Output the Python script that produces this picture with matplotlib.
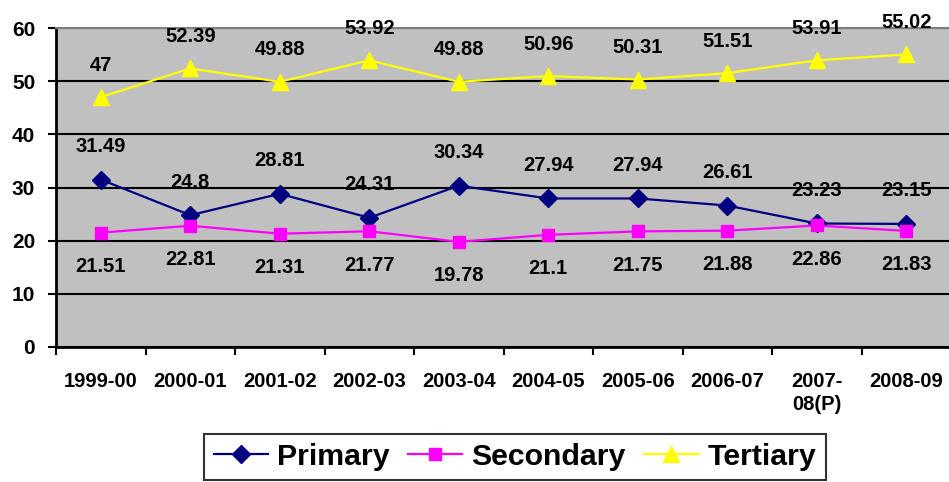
import matplotlib
matplotlib.use("Agg")
import matplotlib.pyplot as plt
from matplotlib.lines import Line2D

categories = ["1999-00", "2000-01", "2001-02", "2002-03", "2003-04", "2004-05",
              "2005-06", "2006-07", "2007-\n08(P)", "2008-09"]
primary = [31.49, 24.8, 28.81, 24.31, 30.34, 27.94, 27.94, 26.61, 23.23, 23.15]
secondary = [21.51, 22.81, 21.31, 21.77, 19.78, 21.1, 21.75, 21.88, 22.86, 21.83]
tertiary = [47, 52.39, 49.88, 53.92, 49.88, 50.96, 50.31, 51.51, 53.91, 55.02]
primary_labels = ["31.49", "24.8", "28.81", "24.31", "30.34", "27.94", "27.94", "26.61", "23.23", "23.15"]
secondary_labels = ["21.51", "22.81", "21.31", "21.77", "19.78", "21.1", "21.75", "21.88", "22.86", "21.83"]
tertiary_labels = ["47", "52.39", "49.88", "53.92", "49.88", "50.96", "50.31", "51.51", "53.91", "55.02"]
yticks = [0, 10, 20, 30, 40, 50, 60]

plt.rcParams['font.family'] = ['Liberation Sans', 'DejaVu Sans']
plt.rcParams['font.weight'] = 'bold'

W, H = 949, 482
fig = plt.figure(figsize=(W / 100, H / 100), dpi=100)
ax = fig.add_axes([56 / W, (H - 347) / H, 895 / W, 319 / H])
ax.set_facecolor('#C0C0C0')

x = [i + 0.5 for i in range(len(categories))]
px = 0.72  # points per pixel

series = [
    (primary, primary_labels, '#000080', 'D', 9, 'Primary', 33),
    (secondary, secondary_labels, '#FF00FF', 's', 9, 'Secondary', -34),
    (tertiary, tertiary_labels, '#FFFF00', '^', 11, 'Tertiary', 32),
]
for vals, labs, col, mk, ms, name, off in series:
    ax.plot(x, vals, color=col, marker=mk, markersize=ms, linewidth=1.6,
            markerfacecolor=col, markeredgecolor=col, label=name, zorder=3,
            clip_on=False)
    for xi, v, lab in zip(x, vals, labs):
        ax.annotate(lab, (xi, v), xytext=(0, off * px), textcoords='offset points',
                    ha='center', va='center', fontsize=14.5, fontweight='bold',
                    color='black', annotation_clip=False)

ax.set_xlim(0, 10)
ax.set_ylim(0, 60)
ax.set_yticks(yticks)
ax.set_yticklabels([str(t) for t in yticks], fontsize=15, fontweight='bold')
ax.yaxis.grid(True, color='black', linewidth=1.5)
ax.set_axisbelow(True)
ax.tick_params(axis='y', direction='out', length=6, width=1.5, pad=9)

ax.set_xticks(range(0, 11))
ax.set_xticklabels([])
ax.tick_params(axis='x', which='major', direction='out', length=6, width=1.5)
ax.set_xticks(x, minor=True)
ax.set_xticklabels(categories, minor=True, fontsize=14.5, fontweight='bold',
                   linespacing=1.25, va='top')
ax.tick_params(axis='x', which='minor', length=0, pad=18)

for s in ['left', 'bottom']:
    ax.spines[s].set_linewidth(2)
    ax.spines[s].set_color('black')
ax.spines['top'].set_color('#808080')
ax.spines['top'].set_linewidth(1.5)
ax.spines['right'].set_color('#808080')

handles = [Line2D([0], [0], color=c, marker=m, markersize=ms, linewidth=1.6,
                  markerfacecolor=c, markeredgecolor=c)
           for _, _, c, m, ms, _, _ in series]
leg = fig.legend(handles, ['Primary', 'Secondary', 'Tertiary'], loc='upper center',
                 bbox_to_anchor=(515 / W, (H - 434) / H), ncol=3, frameon=True,
                 fancybox=False, edgecolor='black',
                 prop={'weight': 'bold', 'size': 21.8}, handlelength=1.8,
                 handletextpad=0.3, columnspacing=0.6, borderpad=0.3,
                 borderaxespad=0)
leg.get_frame().set_linewidth(1.5)

fig.savefig('out.png', dpi=100)
